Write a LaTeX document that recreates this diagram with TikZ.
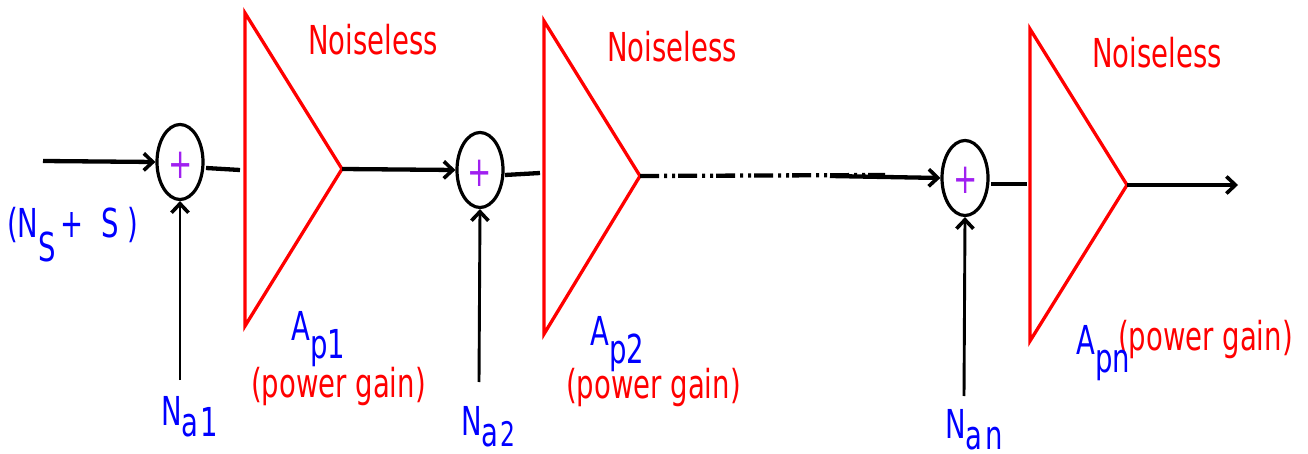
\documentclass[tikz,border=0pt]{standalone}
\usepackage{fontspec}
\setmainfont{DejaVu Sans}
\usetikzlibrary{shapes.geometric,arrows.meta}
\definecolor{plusc}{RGB}{160,32,240}
\newcommand{\tall}[1]{\scalebox{1}[1.45]{#1}}
\newcommand{\low}[2]{\raisebox{-#1pt}{#2}}
\tikzset{
  x=1pt,y=-1pt,
  amp/.style={draw=red,line width=3.3pt,line join=miter},
  sumnode/.style={draw=black,ellipse,line width=3.2pt,minimum width=46pt,minimum height=75pt,inner sep=0pt},
  lbl/.style={anchor=base west,inner sep=0pt,font=\fontsize{27.5pt}{30pt}\selectfont},
  redlbl/.style={lbl,text=red},
  bluelbl/.style={lbl,text=blue},
  pluslbl/.style={anchor=center,inner sep=0pt,text=plusc,font=\fontsize{29pt}{30pt}\selectfont},
  tip/.style={-{Straight Barb[length=9pt,width=17pt,line width=3.6pt]}},
  wire/.style={line width=4.3pt},
  feed/.style={line width=2.9pt},
  dotted wire/.style={line width=4.3pt,dash pattern=on 19pt off 5pt on 3pt off 5pt on 3pt off 3pt},
}
\begin{document}
\begin{tikzpicture}
\useasboundingbox (0,0) rectangle (1308,454);
% amplifiers
\coordinate (t1a) at (245,13);  \coordinate (t1b) at (245,326);  \coordinate (t1) at (342,169);
\coordinate (t2a) at (544,21);  \coordinate (t2b) at (544,334);  \coordinate (t2) at (640,176);
\coordinate (t3a) at (1030,29); \coordinate (t3b) at (1030,341); \coordinate (t3) at (1127,185);
\draw[amp] (t1a) -- (t1) -- (t1b) -- cycle;
\draw[amp] (t2a) -- (t2) -- (t2b) -- cycle;
\draw[amp] (t3a) -- (t3) -- (t3b) -- cycle;
% summers
\node[sumnode] (s1) at (180,162) {};
\node[sumnode] (s2) at (480,170) {};
\node[sumnode] (s3) at (965,178) {};
\node[pluslbl] (p1) at (180.5,165) {\tall{+}};
\node[pluslbl] (p2) at (480,173) {\tall{+}};
\node[pluslbl] (p3) at (965.5,180) {\tall{+}};
% free ends
\coordinate (in) at (43,161);
\coordinate (n1) at (180,380);
\coordinate (n2) at (479,382);
\coordinate (n3) at (964,396);
\coordinate (o1a) at (206,168); \coordinate (o1b) at (240,170);
\coordinate (o2a) at (505,175); \coordinate (o2b) at (540,173);
\coordinate (o3a) at (991,184); \coordinate (o3b) at (1027,184);
\coordinate (mid) at (885,175); \coordinate (mid2) at (830,176);
\coordinate (out) at (1238,185);
% connectors
\draw[wire,tip] (in) -- (s1.west);
\draw[wire] (o1a) -- (o1b);
\draw[wire,tip] (t1) -- (s2.west);
\draw[wire] (o2a) -- (o2b);
\draw[dotted wire] (t2) -- (mid);
\draw[wire,tip] (mid2) -- (s3.west);
\draw[wire] (o3a) -- (o3b);
\draw[wire,tip] (t3) -- (out);
\draw[feed,tip] (n1) -- (s1.south);
\draw[feed,tip] (n2) -- (s2.south);
\draw[feed,tip] (n3) -- (s3.south);
% labels
\node[redlbl] (l1) at (308,55) {\tall{Noiseless}};
\node[redlbl] (l2) at (607,62) {\tall{Noiseless}};
\node[redlbl] (l3) at (1092,68) {\tall{Noiseless}};
\node[redlbl] (g1) at (251,397) {\tall{(power gain)}};
\node[redlbl] (g2) at (566,398) {\tall{(power gain)}};
\node[redlbl] (g3) at (1118,350) {\tall{(power gain)}};
\node[bluelbl] (a1) at (291,340) {\tall{A\low{13}{p1}}};
\node[bluelbl] (a2) at (590,345) {\tall{A\low{13}{p2}}};
\node[bluelbl] (a3) at (1076,354) {\tall{A\low{13}{pn}}};
\node[bluelbl] (m1) at (161,425) {\tall{N\low{8}{a\kern2pt 1}}};
\node[bluelbl] (m2) at (461,435) {\tall{N\low{8}{a\kern2pt\scalebox{.85}{2}}}};
\node[bluelbl] (m3) at (945,438) {\tall{N\low{8}{a\kern3pt n}}};
\node[bluelbl] (sig) at (7,238) {\tall{(N\low{16}{S}\kern5pt+\kern18pt S\kern8pt)}};
\end{tikzpicture}
\end{document}
